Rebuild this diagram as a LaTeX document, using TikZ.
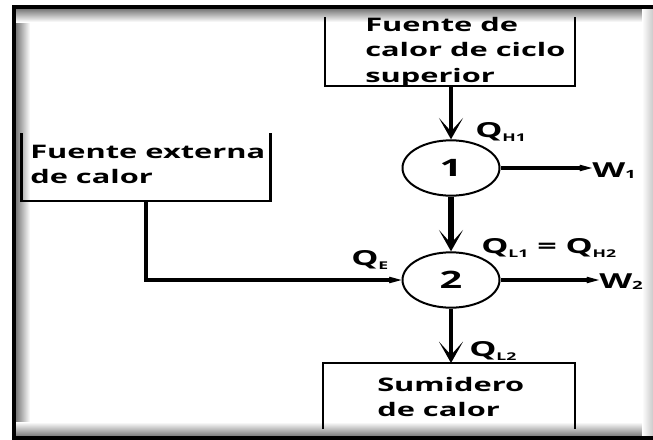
\documentclass[tikz,border=0pt]{standalone}
\usepackage{fontspec}
\setmainfont{Open Sans}[FakeStretch=1.65]
\usepackage{xcolor}
\definecolor{FrameShade}{HTML}{7A7A7A}
\usepackage{tikz}
\usetikzlibrary{positioning,arrows.meta,shapes.geometric}
\newcommand{\heatsub}[2]{#1\raisebox{-3.5pt}{\fontsize{8}{8}\selectfont #2}}
\newcommand{\worksub}[1]{W\raisebox{-1pt}{\fontsize{8.5}{8.5}\selectfont #1}}
\tikzset{
  ubox/.style={inner sep=0pt,outer sep=0pt},
  htext/.style={inner sep=0pt,align=left,font=\bfseries\fontsize{14}{19}\selectfont},
  hline/.style={draw=black,line width=2pt},
  engine/.style={ellipse,draw=black,line width=1.5pt,minimum width=72.75pt,minimum height=41.5pt,inner sep=0pt,font=\bfseries\fontsize{18}{18}\selectfont},
  qlabel/.style={inner sep=0pt,font=\bfseries\fontsize{15.5}{15.5}\selectfont},
  hflow/.style={-{Stealth[length=16pt,width=18pt,inset=10pt]},line width=3.6pt},
  wflow/.style={-{Stealth[length=22pt,width=12pt,inset=13pt]},line width=3pt},
  frameline/.style={line width=3pt,line cap=rect}
}
\begin{document}
\begin{tikzpicture}[x=0.75pt,y=-0.75pt]
  \useasboundingbox (0,0) rectangle (653,439);
  \shade[left color=FrameShade,right color=white] (16,9) rectangle (30,436);
  \shade[top color=FrameShade,bottom color=white] (16,9) rectangle (653,22);
  \shade[top color=white,bottom color=FrameShade] (16,422) rectangle (653,436);
  \shade[left color=white,right color=FrameShade!40] (642,9) rectangle (653,436);
  \draw[frameline] (653,7) -- (14,7) -- (14,437.5) -- (653,437.5);

  \node[ubox,minimum width=187.5pt,minimum height=51.75pt] (top) at (450,51.5) {};
  \node[ubox,minimum width=186.75pt,minimum height=51pt] (ext) at (146,167) {};
  \node[ubox,minimum width=189pt,minimum height=49.5pt] (sink) at (449,396) {};
  \draw[hline] (top.north west) -- (top.south west) -- (top.south east) -- (top.north east);
  \draw[hline] (ext.north west) -- (ext.south west) -- (ext.south east) -- (ext.north east);
  \draw[hline] (sink.south west) -- (sink.north west) -- (sink.north east) -- (sink.south east);
  \node[htext,below right=0pt and 30pt of top.north west,anchor=north west] (toptxt) {Fuente de\\calor de ciclo\\superior};
  \node[htext,below right=9pt and 6.4pt of ext.north west,anchor=north west] (exttxt) {Fuente externa\\de calor};
  \node[htext,below right=10.5pt and 40.5pt of sink.north west,anchor=north west] (sinktxt) {Sumidero\\de calor};

  \node[engine] (eng1) at (451,168) {1};
  \node[engine,below=41pt of eng1] (eng2) {2};

  \node[qlabel,anchor=base west] (qh1) at (475,137) {\heatsub{Q}{H1}};
  \node[qlabel,anchor=base west] (qmid) at (481,253) {\heatsub{Q}{L1} = \heatsub{Q}{H2}};
  \node[qlabel,anchor=base west] (qe) at (351,265) {\heatsub{Q}{E}};
  \node[qlabel,anchor=base west] (ql2) at (469,356) {\heatsub{Q}{L2}};
  \node[qlabel,anchor=base west] (w1) at (592,177) {\worksub{1}};
  \node[qlabel,anchor=base west] (w2) at (599,288) {\worksub{2}};

  \draw[hflow] (top.south -| eng1) -- (eng1);
  \draw[hflow,line width=4.4pt] (eng1) -- (eng2);
  \draw[hflow] (eng2) -- (sink.north -| eng2);
  \draw[wflow] (ext.south) |- (eng2);
  \draw[wflow] (eng1) -- (eng1 -| w1.west);
  \draw[wflow] (eng2) -- (eng2 -| w2.west);
\end{tikzpicture}
\end{document}
